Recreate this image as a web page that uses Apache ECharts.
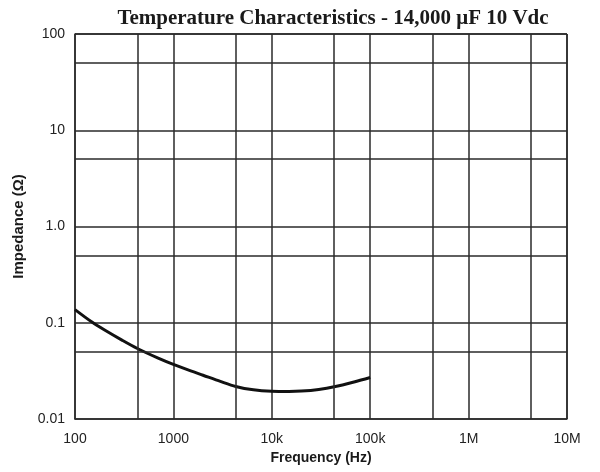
<!DOCTYPE html>
<html>
<head>
<meta charset="utf-8">
<script src="https://cdn.jsdelivr.net/npm/echarts@6/dist/echarts.min.js"></script>
<style>html,body{margin:0;padding:0;background:#fff}#c{width:600px;height:472px}</style>
</head>
<body>
<div id="c"></div>
<script>
var freq = [100, 150, 200, 300, 430, 700, 1000, 1500, 2000, 3000, 4300, 6500, 10000, 15000, 20000, 30000, 43000, 70000, 100000];
var impedance = [0.137, 0.101, 0.084, 0.066, 0.054, 0.0429, 0.0369, 0.0316, 0.0285, 0.0246, 0.0218, 0.0201, 0.0194, 0.0193, 0.0195, 0.0203, 0.0216, 0.0244, 0.027];
var xTickLabels = {2: '100', 3: '1000', 4: '10k', 5: '100k', 6: '1M', 7: '10M'};
var yTickLabels = {'-2': '0.01', '-1': '0.1', '0': '1.0', '1': '10', '2': '100'};
var xMinorLines = [430, 4300, 43000, 430000, 4300000];
var yMinorLines = [0.05, 0.5, 5, 50];

var lineColor = '#2a2a2a';
var chart = echarts.init(document.getElementById('c'));
var markData = [];
xMinorLines.forEach(function (v) { markData.push({xAxis: v}); });
yMinorLines.forEach(function (v) { markData.push({yAxis: v}); });

chart.setOption({
  animation: false,
  backgroundColor: '#fff',
  title: {
    text: 'Temperature Characteristics - 14,000 \u03BCF 10 Vdc',
    left: 328, top: 3, textAlign: 'center',
    textStyle: {fontFamily: 'Liberation Serif', fontWeight: 'bold', fontSize: 21, color: '#1a1a1a'}
  },
  grid: {left: 75, right: 33, top: 34, bottom: 53},
  xAxis: {
    type: 'log', logBase: 10, min: 100, max: 10000000,
    name: 'Frequency (Hz)', nameLocation: 'middle', nameGap: 32,
    nameTextStyle: {fontFamily: 'Liberation Sans', fontSize: 14, color: '#1a1a1a', fontWeight: 'bold'},
    axisLine: {show: true, lineStyle: {color: lineColor, width: 1.5}},
    axisTick: {show: false},
    axisLabel: {
      fontFamily: 'Liberation Sans', fontSize: 14, color: '#222', margin: 13,
      formatter: function (v) { return xTickLabels[Math.round(Math.log10(v))] || ''; }
    },
    splitLine: {show: true, lineStyle: {color: lineColor, width: 1.5}}
  },
  yAxis: {
    type: 'log', logBase: 10, min: 0.01, max: 100,
    name: 'Impedance (\u03A9)', nameLocation: 'middle', nameGap: 44,
    nameTextStyle: {fontFamily: 'Liberation Sans', fontSize: 15, color: '#1a1a1a', fontWeight: 'bold'},
    axisLine: {show: true, lineStyle: {color: lineColor, width: 1.5}},
    axisTick: {show: false},
    axisLabel: {
      fontFamily: 'Liberation Sans', fontSize: 14, color: '#222', margin: 10,
      formatter: function (v) { return yTickLabels[String(Math.round(Math.log10(v)))] || ''; }
    },
    splitLine: {show: true, lineStyle: {color: lineColor, width: 1.5}}
  },
  series: [{
    type: 'line',
    data: freq.map(function (f, i) { return [f, impedance[i]]; }),
    smooth: 0.3,
    showSymbol: false,
    lineStyle: {color: '#111', width: 3},
    markLine: {
      silent: true, symbol: 'none',
      label: {show: false},
      lineStyle: {color: lineColor, width: 1.5, type: 'solid'},
      data: markData
    }
  }, {
    type: 'line', data: [],
    markLine: {
      silent: true, symbol: 'none', label: {show: false},
      lineStyle: {color: lineColor, width: 1.5, type: 'solid'},
      data: [{xAxis: 10000000}, {yAxis: 100}]
    }
  }]
});
</script>
</body>
</html>
